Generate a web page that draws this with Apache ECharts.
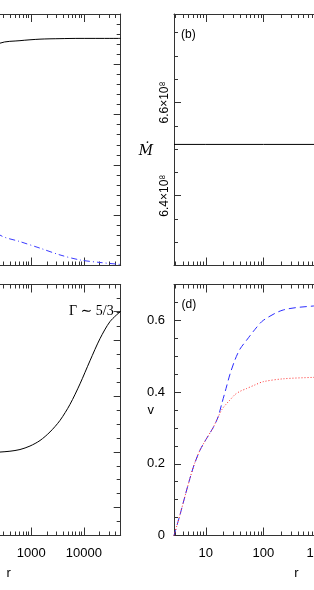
<!DOCTYPE html>
<html><head><meta charset="utf-8">
<script src="https://cdn.jsdelivr.net/npm/echarts@6/dist/echarts.min.js"></script>
<style>html,body{margin:0;padding:0;background:#fff;overflow:hidden}#c{width:314px;height:590px}</style>
</head><body><div id="c"></div>
<script>
// ---------- data ----------
// shared x range (r)
const xMin = 2.8, xMax = 50000;
const xTickLabels = ['10', '100', '1000', '10000'];

// panel (a)
const rA = [2.8, 10, 30, 100, 256, 614, 1472, 3524, 8450, 20240, 45000, 50000];
const aBlack = [0.30, 0.55, 0.72, 0.83, 0.884, 0.894, 0.900, 0.902, 0.903, 0.903, 0.903, 0.903];
const aBlue = [0.90, 0.60, 0.38, 0.20, 0.121, 0.095, 0.069, 0.042, 0.022, 0.012, 0.005, 0.004];
const aYMajor = [0, 0.2, 0.4, 0.6, 0.8, 1.0];

// panel (b)
const rB = [2.8, 10, 100, 1000, 10000, 50000];
const mdotB = [6.51e8, 6.51e8, 6.51e8, 6.51e8, 6.51e8, 6.51e8];
const bYMajor = [6.4e8, 6.6e8];
const bYLabels = ['6.4×10⁸', '6.6×10⁸'];

// panel (c)
const rC = [2.8, 10, 30, 100, 256, 396, 614, 950, 1472, 2276, 3524, 5458, 8450, 13070, 20240, 31330, 50000];
const gammaC = [1.37, 1.38, 1.39, 1.397, 1.3996, 1.4011, 1.4041, 1.4104, 1.4203, 1.4356, 1.4563, 1.4851, 1.5219, 1.5633, 1.6029, 1.6335, 1.652];
const cYMajor = [1.3, 1.4, 1.5, 1.6, 1.7];

// panel (d)
const rD = [2.8, 3.56, 4.35, 5.31, 6.35, 7.92, 10.07, 13.3, 16.26, 19.08, 22.4, 26.27, 32.08, 39.17, 51.2, 71.4, 99.4, 221, 735, 2000, 5000, 50000];
const vBlue = [0, 0.058, 0.11, 0.16, 0.20, 0.238, 0.268, 0.30, 0.33, 0.37, 0.41, 0.45, 0.49, 0.52, 0.545, 0.575, 0.60, 0.629, 0.640, 0.643, 0.645, 0.646];
const vRed = [0, 0.058, 0.11, 0.16, 0.20, 0.238, 0.268, 0.30, 0.33, 0.352, 0.366, 0.378, 0.393, 0.402, 0.41, 0.42, 0.429, 0.437, 0.441, 0.443, 0.444, 0.444];
const dYMajor = [0, 0.2, 0.4, 0.6];
const dYLabels = ['0', '0.2', '0.4', '0.6'];

// ---------- styling / layout ----------
const FONT = "'Liberation Sans', Arial, Helvetica, sans-serif";
const SERIF = "'Liberation Serif', 'Times New Roman', 'DejaVu Serif', serif";
const AX = '#333';

function steps(min, max, step, majors) {
  const out = [];
  const n = Math.round((max - min) / step);
  for (let i = 0; i <= n; i++) {
    const v = min + i * step;
    if (!majors.some(m => Math.abs(m - v) < step * 1e-3)) out.push(v);
  }
  return out;
}
const xMinorLog = [];
for (let d = 0; d <= 4; d++) for (let k = 2; k <= 9; k++) {
  const v = k * Math.pow(10, d);
  if (v > xMin && v < xMax) xMinorLog.push(Math.log10(v));
}

function lookup(majors, labels) {
  return v => { const i = majors.findIndex(m => Math.abs(m - v) < Math.abs(m) * 1e-6 + 1e-9); return i >= 0 ? labels[i] : ''; };
}

const panels = [
  { left: -103.4, top: 14, width: 224.1, height: 251.5, yMin: 0, yMax: 1, yMajor: aYMajor, yMinor: steps(0, 1, 0.04, aYMajor), xLabels: false, yLabels: null },
  { left: 174, top: 14, width: 244.9, height: 251.5, yMin: 6.25e8, yMax: 6.79e8, yMajor: bYMajor, yMinor: steps(6.25e8, 6.75e8, 0.05e8, bYMajor), xLabels: false,
    yLabels: { fmt: lookup(bYMajor, bYLabels), rotate: 90, fontSize: 12, margin: 3 }, yName: '\nṀ' },
  { left: -103.4, top: 284.5, width: 224.1, height: 251, yMin: 1.25, yMax: 1.7, yMajor: cYMajor, yMinor: steps(1.25, 1.7, 0.025, cYMajor), xLabels: true, yLabels: null },
  { left: 174, top: 284.5, width: 244.9, height: 251, yMin: 0, yMax: 0.7, yMajor: dYMajor, yMinor: steps(0, 0.7, 0.05, dYMajor), xLabels: true,
    yLabels: { fmt: lookup(dYMajor, dYLabels), rotate: 0, fontSize: 13, margin: 9 }, yName: 'v' }
];

const grid = [], xAxis = [], yAxis = [];
panels.forEach((p, i) => {
  const g = { left: p.left, top: p.top, width: p.width, height: p.height, containLabel: false, outerBoundsMode: 'none', show: false };
  grid.push(Object.assign({}, g), Object.assign({}, g));
  const gp = 2 * i, go = 2 * i + 1;
  const line = { show: true, onZero: false, lineStyle: { color: AX, width: 1 } };
  const noLine = { show: false, onZero: false };
  ['bottom', 'top'].forEach(pos => {
    const lab = p.xLabels && pos === 'bottom';
    xAxis.push({
      gridIndex: gp, type: 'log', logBase: 10, min: xMin, max: xMax, position: pos,
      axisLine: line,
      axisTick: { show: true, inside: true, length: 8, lineStyle: { color: AX, width: 1 } },
      axisLabel: { show: lab, color: '#000', fontSize: 13, fontFamily: FONT, margin: 11, showMinLabel: false, showMaxLabel: false,
        formatter: v => { const k = Math.round(Math.log10(v)) - 1; return xTickLabels[k] !== undefined && Math.abs(Math.log10(v) - k - 1) < 1e-6 ? xTickLabels[k] : ''; } },
      splitLine: { show: false },
      name: lab ? 'r' : '', nameLocation: 'middle', nameGap: 31, nameMoveOverlap: false,
      nameTextStyle: { color: '#000', fontSize: 13, fontFamily: FONT }
    });
  });
  ['bottom', 'top'].forEach(pos => {
    xAxis.push({
      gridIndex: go, type: 'value', min: Math.log10(xMin), max: Math.log10(xMax), position: pos,
      axisLine: noLine,
      axisTick: { show: true, inside: true, length: 4, customValues: xMinorLog, lineStyle: { color: AX, width: 1 } },
      axisLabel: { show: false }, splitLine: { show: false }
    });
  });
  ['left', 'right'].forEach(pos => {
    const yl = p.yLabels && pos === 'left' ? p.yLabels : null;
    yAxis.push({
      gridIndex: gp, type: 'value', min: p.yMin, max: p.yMax, position: pos,
      axisLine: line,
      axisTick: { show: true, inside: true, length: 7, customValues: p.yMajor, lineStyle: { color: AX, width: 1 } },
      axisLabel: yl ? { show: true, customValues: p.yMajor, formatter: yl.fmt, rotate: yl.rotate, fontSize: yl.fontSize, margin: yl.margin, color: '#000', fontFamily: FONT }
                    : { show: false },
      splitLine: { show: false },
      name: (yl && p.yName) ? p.yName : '', nameLocation: 'middle', nameRotate: 0, nameGap: p.yName === 'v' ? 20 : 21, nameMoveOverlap: false,
      nameTextStyle: p.yName === 'v' ? { color: '#000', fontSize: 13, fontFamily: FONT }
                                      : { color: '#000', fontSize: 14, fontFamily: "'DejaVu Serif', serif", fontStyle: 'italic', lineHeight: 24 }
    });
  });
  ['left', 'right'].forEach(pos => {
    yAxis.push({
      gridIndex: go, type: 'value', min: p.yMin, max: p.yMax, position: pos,
      axisLine: noLine,
      axisTick: { show: true, inside: true, length: 4, customValues: p.yMinor, lineStyle: { color: AX, width: 1 } },
      axisLabel: { show: false }, splitLine: { show: false }
    });
  });
});

function pairs(xs, ys) { return xs.map((x, j) => [x, ys[j]]); }
const base = { type: 'line', showSymbol: false, symbol: 'none', silent: true, animation: false, smooth: 0.3 };

const series = [
  Object.assign({}, base, { xAxisIndex: 0, yAxisIndex: 0, data: pairs(rA, aBlack), lineStyle: { color: '#000', width: 1 } }),
  Object.assign({}, base, { xAxisIndex: 0, yAxisIndex: 0, data: pairs(rA, aBlue), lineStyle: { color: '#3a3aff', width: 1, type: [6, 3, 1, 3] } }),
  Object.assign({}, base, { xAxisIndex: 4, yAxisIndex: 4, data: pairs(rB, mdotB), smooth: false, lineStyle: { color: '#000', width: 1 } }),
  Object.assign({}, base, { xAxisIndex: 8, yAxisIndex: 8, data: pairs(rC, gammaC), lineStyle: { color: '#000', width: 1 },
    markPoint: { symbol: 'circle', symbolSize: 0, silent: true, animation: false,
      data: [{ coord: [rC[rC.length - 1], gammaC[gammaC.length - 1]] }],
      label: { show: true, position: 'left', distance: 0, formatter: 'Γ ∼ 5/3–', color: '#000', fontSize: 14, fontFamily: SERIF } } }),
  Object.assign({}, base, { xAxisIndex: 12, yAxisIndex: 12, data: pairs(rD, vBlue), lineStyle: { color: '#2c2cff', width: 1, type: [7, 4] } }),
  Object.assign({}, base, { xAxisIndex: 12, yAxisIndex: 12, data: pairs(rD, vRed), lineStyle: { color: '#ff2c2c', width: 1, type: [1, 2] } })
];

const title = [
  { text: '(b)', left: 181, top: 28.5, padding: 0, textStyle: { fontSize: 12, fontWeight: 'normal', color: '#000', fontFamily: FONT, lineHeight: 13 } },
  { text: '(d)', left: 181.5, top: 298.5, padding: 0, textStyle: { fontSize: 12, fontWeight: 'normal', color: '#000', fontFamily: FONT, lineHeight: 13 } }
];

const chart = echarts.init(document.getElementById('c'), null, { renderer: 'canvas' });
chart.setOption({ backgroundColor: '#fff', animation: false, title, grid, xAxis, yAxis, series });
</script></body></html>
